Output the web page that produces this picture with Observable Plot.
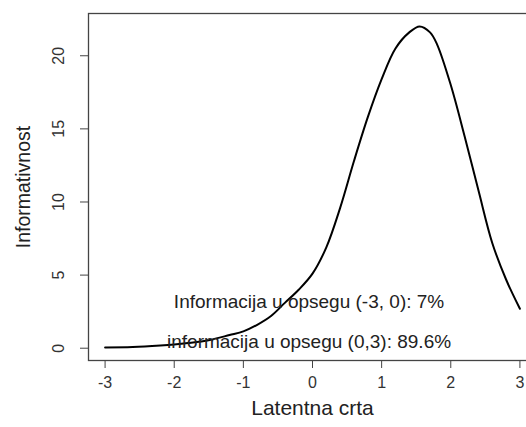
<!DOCTYPE html>
<html>
<head>
<meta charset="utf-8">
<script src="https://cdn.jsdelivr.net/npm/d3@7"></script>
<script src="https://cdn.jsdelivr.net/npm/@observablehq/plot@0.6"></script>
<style>
  html, body { margin: 0; padding: 0; background: #fff; overflow: hidden; }
  #chart svg { font-family: "Liberation Sans", Arial, sans-serif; }
</style>
</head>
<body>
<div id="chart"></div>
<script>
// Latent trait (theta) and test information values
const theta = [-3.0, -2.6, -2.2, -2.0, -1.8, -1.5, -1.2, -1.0, -0.8, -0.6, -0.4, -0.2, 0.0, 0.2, 0.4, 0.6, 0.8, 1.0, 1.2, 1.4, 1.55, 1.7, 1.8, 2.0, 2.2, 2.4, 2.6, 2.8, 3.0];
const info  = [0.05, 0.08, 0.18, 0.25, 0.35, 0.55, 0.9, 1.15, 1.6, 2.2, 3.1, 4.0, 5.1, 6.9, 9.6, 12.8, 15.8, 18.4, 20.5, 21.6, 22.0, 21.6, 20.8, 18.0, 14.5, 10.8, 7.2, 4.7, 2.7];

const xTicks = [-3, -2, -1, 0, 1, 2, 3];
const yTicks = [0, 5, 10, 15, 20];

const annX = [-0.05, -0.05];
const annY = [3.2, 0.45];
const annText = ["Informacija u opsegu (-3, 0): 7%", "informacija u opsegu (0,3): 89.6%"];

const xTitle = "Latentna crta";
const yTitle = "Informativnost";

const curve = theta.map((t, i) => ({theta: t, info: info[i]}));

const W = 526, H = 427;
const mL = 88, mR = -10, mT = 13, mB = 67;

const chart = Plot.plot({
  width: W,
  height: H,
  marginLeft: mL,
  marginRight: mR,
  marginTop: mT,
  marginBottom: mB,
  style: {background: "#fff", overflow: "hidden"},
  x: {domain: [-3.24, 3.24], range: [mL, W - mR], axis: null},
  y: {domain: [-0.84, 22.89], range: [H - mB, mT], axis: null},
  marks: [
    Plot.frame({stroke: "#444", strokeWidth: 1.3}),
    Plot.axisX({ticks: xTicks, tickSize: 8, text: null, tickFormat: () => "", label: null, stroke: "#444"}),
    Plot.axisY({ticks: yTicks, tickSize: 8, text: null, tickFormat: () => "", label: null, stroke: "#444"}),
    Plot.text(xTicks, {x: d => d, frameAnchor: "bottom", dy: 27, text: d => String(d), fontSize: 16, fill: "#333"}),
    Plot.text(yTicks, {y: d => d, frameAnchor: "left", dx: -30, rotate: -90, textAnchor: "middle", text: d => String(d), fontSize: 16, fill: "#333"}),
    Plot.line(curve, {x: "theta", y: "info", stroke: "#000", strokeWidth: 2, curve: "catmull-rom"}),
    Plot.text(annText, {x: (d, i) => annX[i], y: (d, i) => annY[i], text: d => d, fontSize: 19, fill: "#222", textAnchor: "middle"}),
    Plot.text([xTitle], {frameAnchor: "bottom", dy: 54, text: d => d, fontSize: 21, fill: "#222"}),
    Plot.text([yTitle], {frameAnchor: "left", dx: -65, rotate: -90, textAnchor: "middle", text: d => d, fontSize: 19.5, fill: "#222"})
  ]
});

document.getElementById("chart").appendChild(chart);
</script>
</body>
</html>
